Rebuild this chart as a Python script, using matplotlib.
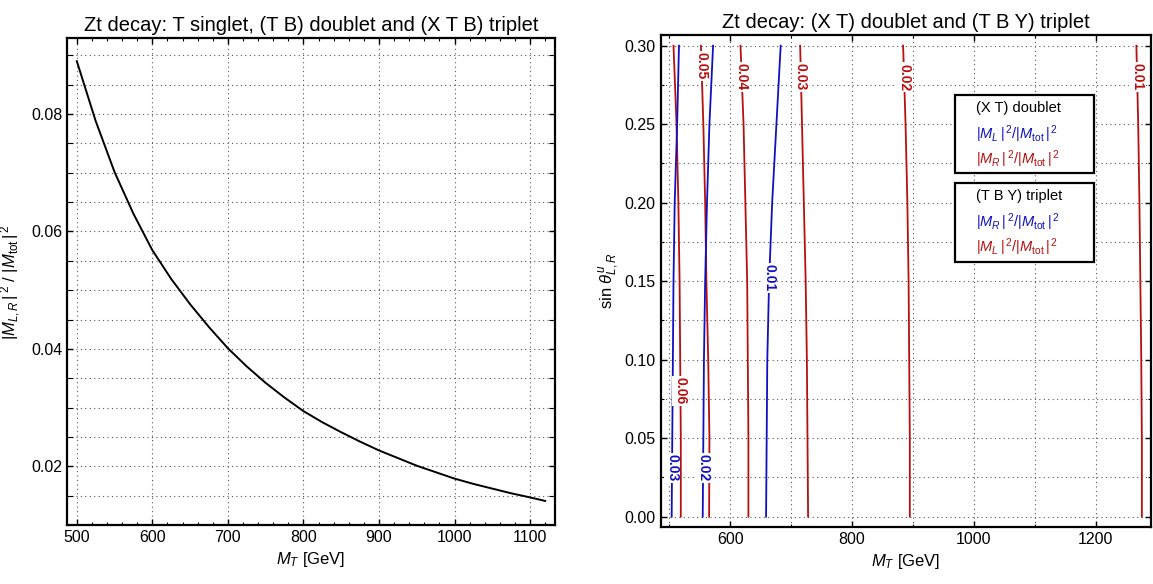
import numpy as np
import matplotlib.pyplot as plt
from matplotlib.ticker import MultipleLocator

plt.rcParams['font.family'] = ['Liberation Sans', 'DejaVu Sans']
plt.rcParams['mathtext.fontset'] = 'custom'
plt.rcParams['mathtext.rm'] = 'Liberation Sans'
plt.rcParams['mathtext.it'] = 'Liberation Sans:italic'
plt.rcParams['mathtext.bf'] = 'Liberation Sans:bold'

# panel izquierdo: curva |M_{L,R}|^2/|M_tot|^2 vs M_T
mt_izq = [500, 525, 550, 575, 600, 625, 650, 675, 700, 725, 750, 775, 800, 825, 850,
          875, 900, 925, 950, 975, 1000, 1025, 1050, 1075, 1100, 1120]
frac_izq = [0.0890, 0.0788, 0.0701, 0.0630, 0.0568, 0.0519, 0.0476, 0.0437, 0.0401,
            0.0370, 0.0342, 0.0317, 0.0294, 0.0275, 0.0258, 0.0242, 0.0227, 0.0214,
            0.0201, 0.0190, 0.0179, 0.0170, 0.0162, 0.0154, 0.0147, 0.0141]

# panel derecho: curvas de nivel (M_T leido a cada valor de sin theta)
sen = [0.0, 0.05, 0.10, 0.15, 0.20, 0.25, 0.30]
azul = {  # |M_L|^2/|M_tot|^2 del doblete (X T)
    '0.03': [504, 505, 506, 507, 509, 513, 516],
    '0.02': [555, 556, 557, 559, 562, 566, 572],
    '0.01': [659, 660, 661, 664, 669, 676, 683],
}
rojo = {  # |M_R|^2/|M_tot|^2 del doblete (X T)
    '0.06': [519, 519, 518, 517, 515, 512, 507],
    '0.05': [565.5, 566, 564, 561, 559, 556, 552],
    '0.04': [630, 630, 629, 628, 625, 622, 617],
    '0.03': [728, 727, 726, 724, 721, 718, 715],
    '0.02': [895, 895, 894, 893, 891, 888, 884],
    '0.01': [1276, 1276, 1275, 1273.5, 1272, 1270, 1267],
}
# altura de cada etiqueta sobre su curva
y_etiq_azul = {'0.03': 0.031, '0.02': 0.031, '0.01': 0.152}
y_etiq_rojo = {'0.06': 0.080, '0.05': 0.287, '0.04': 0.280, '0.03': 0.280, '0.02': 0.280, '0.01': 0.280}

c_azul = '#1010C0'
c_rojo = '#B80F0F'


def estilo(ax):
    ax.tick_params(which='both', direction='in', top=True, right=True, labelsize=11.5)
    ax.tick_params(which='major', length=4, width=1)
    ax.tick_params(which='minor', length=2, width=0.8)
    for s in ax.spines.values():
        s.set_linewidth(1.6)
    ax.grid(True, which='major', color='#555555', linestyle=(0, (1, 3)), linewidth=0.8)


fig = plt.figure(figsize=(11.53, 5.84), dpi=100)
ax1 = fig.add_axes([67 / 1153, 1 - 525 / 584, 488 / 1153, 486.7 / 584])
ax2 = fig.add_axes([660.7 / 1153, 1 - 526.7 / 584, 490.3 / 1153, 491.7 / 584])

# izquierda
ax1.plot(mt_izq, frac_izq, color='black', linewidth=1.4)
ax1.set_xlim(487, 1133)
ax1.set_ylim(0.0101, 0.0929)
ax1.xaxis.set_major_locator(MultipleLocator(100))
ax1.xaxis.set_minor_locator(MultipleLocator(20))
ax1.set_yticks([0.02, 0.04, 0.06, 0.08])
ax1.set_yticks(np.arange(0.01, 0.0931, 0.005), minor=True)
ax1.yaxis.set_major_formatter(plt.FuncFormatter(lambda v, p: '%.2f' % v))
estilo(ax1)
ax1.grid(True, which='minor', axis='y', color='#555555', linestyle=(0, (1, 3)), linewidth=0.8)
ax1.tick_params(which='minor', axis='y', length=4)
ax1.set_xlabel(r'$M_T$ [GeV]', fontsize=12)
ax1.set_ylabel(r'$|M_{L,R}\,|^{\,2}$ / $|M_{\rm tot}\,|^{\,2}$', fontsize=12, labelpad=6)
ax1.set_title('Zt decay: T singlet, (T B) doublet and (X T B) triplet', fontsize=14.5, pad=5)

# derecha
for k, xs in rojo.items():
    ax2.plot(xs, sen, color=c_rojo, linewidth=1.3)
for k, xs in azul.items():
    ax2.plot(xs, sen, color=c_azul, linewidth=1.3)
for etiq, col, pos in [(rojo, c_rojo, y_etiq_rojo), (azul, c_azul, y_etiq_azul)]:
    for k, xs in etiq.items():
        yy = pos[k]
        xx = np.interp(yy, sen, xs)
        ax2.text(xx, yy, k, rotation=-90, color=col, fontsize=10, fontweight='bold',
                 ha='center', va='center',
                 bbox=dict(facecolor='white', edgecolor='none', pad=0.8))
ax2.set_xlim(486, 1291)
ax2.set_ylim(-0.0064, 0.3068)
ax2.set_xticks([600, 800, 1000, 1200])
ax2.set_xticks(np.arange(500, 1300, 100), minor=True)
ax2.yaxis.set_major_locator(MultipleLocator(0.05))
ax2.yaxis.set_major_formatter(plt.FuncFormatter(lambda v, p: '%.2f' % v))
estilo(ax2)
ax2.set_yticks(np.arange(0, 0.31, 0.025), minor=True)
ax2.grid(True, which='minor', color='#555555', linestyle=(0, (1, 3)), linewidth=0.8)
ax2.set_xlabel(r'$M_T$ [GeV]', fontsize=12)
ax2.set_ylabel(r'sin $\theta^{u}_{L,R}$', fontsize=12, labelpad=2)
ax2.set_title('Zt decay: (X T) doublet and (T B Y) triplet', fontsize=14.5, pad=5)

# cajas de leyenda
cajas = [
    (0.2686, 0.2186, '(X T) doublet', r'$|M_L\,|^{\,2}/|M_{\rm tot}\,|^{\,2}$', r'$|M_R\,|^{\,2}/|M_{\rm tot}\,|^{\,2}$'),
    (0.2127, 0.1625, '(T B Y) triplet', r'$|M_R\,|^{\,2}/|M_{\rm tot}\,|^{\,2}$', r'$|M_L\,|^{\,2}/|M_{\rm tot}\,|^{\,2}$'),
]
for arriba, abajo, titulo, t_azul, t_rojo in cajas:
    ax2.add_patch(plt.Rectangle((970, abajo), 226.7, arriba - abajo, facecolor='white',
                                edgecolor='black', linewidth=1.6, zorder=5))
    h = arriba - abajo
    ax2.text(1004, arriba - 0.17 * h, titulo, fontsize=10.5, va='center', zorder=6)
    ax2.text(1004, arriba - 0.50 * h, t_azul, fontsize=10.5, va='center', color=c_azul, zorder=6)
    ax2.text(1004, arriba - 0.82 * h, t_rojo, fontsize=10.5, va='center', color=c_rojo, zorder=6)

fig.savefig('out.png', dpi=100)
